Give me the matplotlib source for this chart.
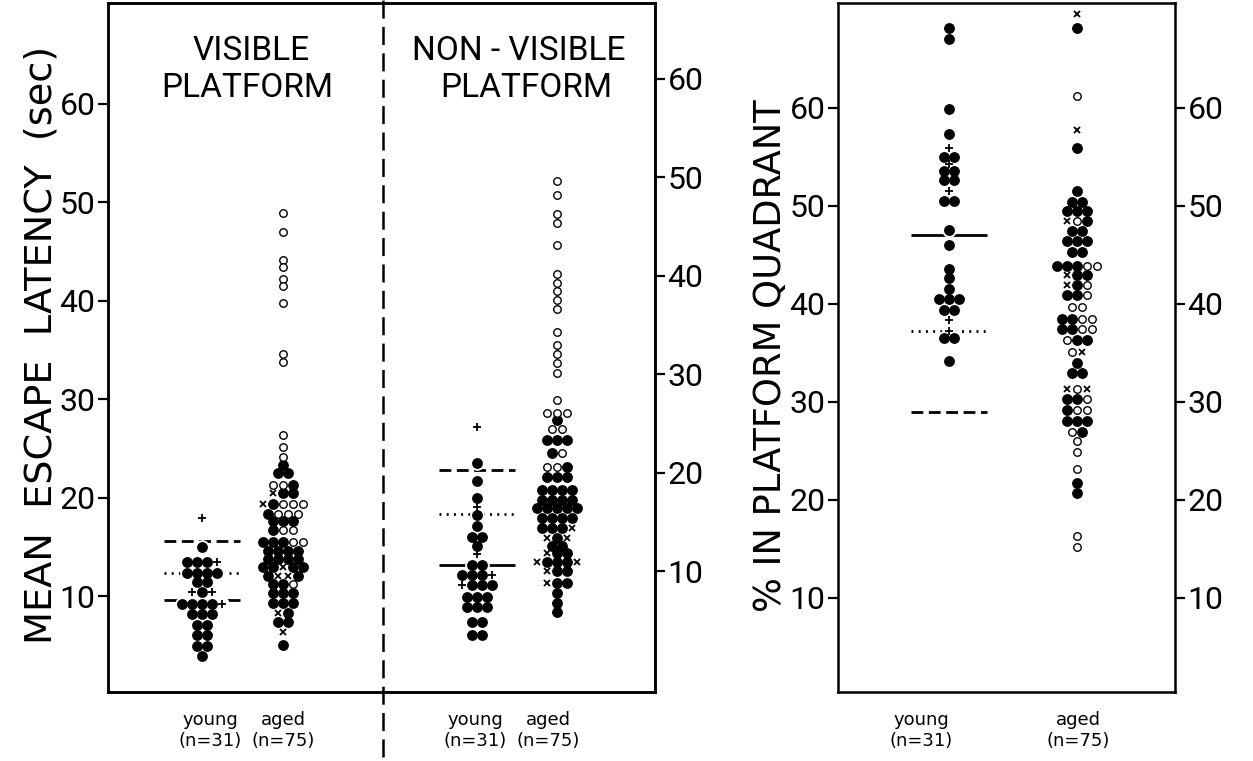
import numpy as np
import matplotlib
matplotlib.use("Agg")
import matplotlib.pyplot as plt
from matplotlib import font_manager
from matplotlib.transforms import blended_transform_factory

plt.rcParams['font.family'] = ['DejaVu Sans']
plt.rcParams['lines.scale_dashes'] = False

# ---------------------------------------------------------------------------
# Data: each column is a list of rows (value, marker codes from left to right)
#   f = filled circle, o = open circle, x = cross, + = plus
# ---------------------------------------------------------------------------
visible_young = [(18.0, '+'), (15.0, 'f'), (13.45, 'fff+'), (12.4, 'ffff'),
                 (11.45, 'ff'), (10.4, '+f+'), (9.2, 'ffff+'), (8.25, 'fff'),
                 (7.1, 'ff'), (6.1, 'ff'), (5.0, 'ff'), (4.0, 'f')]

visible_aged = [(48.9, 'o'), (47.0, 'o'), (44.1, 'o'), (43.4, 'o'), (42.2, 'o'),
                (41.5, 'o'), (39.8, 'o'), (34.6, 'o'), (33.8, 'o'), (26.4, 'o'),
                (25.2, 'o'), (24.1, 'o'), (23.3, 'f'), (22.5, 'ff'), (21.3, 'oof'),
                (20.5, 'xff'), (19.4, 'xfooo'), (18.4, 'fooo'), (17.6, 'fff'),
                (16.7, 'foo'), (15.5, 'fffoo'), (14.6, 'ffff'), (13.8, 'ffff'),
                (13.0, 'ffxff'), (12.1, 'fxxf'), (11.3, 'ffo'), (10.3, 'fff'),
                (9.3, 'fff'), (8.3, 'xf'), (7.4, 'ff'), (6.4, 'x'), (5.1, 'f')]

nonvisible_young = [(24.7, '+'), (21.0, 'f'), (19.2, 'f'), (17.4, 'f'), (16.5, '+'),
                    (15.7, 'f'), (14.6, 'f'), (13.5, 'ff'), (12.6, 'f'), (11.8, '+'),
                    (10.65, 'ff'), (9.6, 'fff+'), (8.6, '+fff'), (7.4, 'fff'),
                    (6.4, 'fff'), (4.9, 'ff'), (3.55, 'ff')]

nonvisible_aged = [(49.6, 'o'), (48.2, 'o'), (46.3, 'o'), (45.3, 'o'), (43.1, 'o'),
                   (40.2, 'o'), (39.3, 'o'), (38.4, 'o'), (37.5, 'o'), (36.6, 'o'),
                   (34.3, 'o'), (33.0, 'o'), (32.1, 'o'), (31.1, 'o'), (30.1, 'o'),
                   (27.4, 'o'), (26.1, 'ooo'), (25.4, 'f'), (24.4, 'oo'), (23.3, 'fff'),
                   (22.0, 'fo'), (20.6, 'oof'), (19.6, 'fff'), (18.3, 'ffff'),
                   (17.2, 'ffff'), (16.4, 'fffff'), (15.4, 'ffff'), (14.4, 'fffx'),
                   (13.4, 'xfx'), (12.6, 'ff'), (11.9, 'xff'), (11.0, 'xfffx'),
                   (10.0, 'xff'), (8.8, 'xff'), (7.8, 'f'), (6.8, 'f'), (5.9, 'f')]

quadrant_young = [(68.1, 'f'), (67.0, 'f'), (59.9, 'f'), (57.3, 'f'), (55.9, '+'),
                  (55.0, 'ff'), (54.3, '+'), (53.6, 'ff'), (52.6, 'ff'), (51.5, '+'),
                  (50.5, 'ff'), (47.5, 'f'), (46.0, 'f'), (43.6, 'f'), (42.6, 'f'),
                  (41.5, 'f'), (40.5, 'fff'), (39.4, 'ff'), (38.4, '+'), (37.2, '+'),
                  (36.5, 'ff'), (34.2, 'f')]

quadrant_aged = [(69.6, 'x'), (68.2, 'f'), (61.2, 'o'), (57.7, 'x'), (55.9, 'f'),
                 (51.5, 'f'), (50.4, 'ff'), (49.5, 'fff'), (48.5, 'xof'), (47.4, 'ff'),
                 (46.4, 'fff'), (45.3, 'ff'), (43.9, 'fffoo'), (42.9, 'xff'),
                 (41.9, 'xfo'), (40.9, 'ffo'), (39.7, 'oo'), (38.5, 'ffoo'),
                 (37.4, 'ffoo'), (36.3, 'off'), (35.1, 'ox'), (34.0, 'f'), (32.9, 'ff'),
                 (31.3, 'xox'), (30.3, 'ffo'), (29.2, 'foo'), (28.1, 'fff'), (26.9, 'of'),
                 (26.0, 'o'), (24.9, 'o'), (23.2, 'o'), (21.7, 'f'), (20.7, 'f'),
                 (16.3, 'o'), (15.2, 'o')]

# reference levels drawn across the young columns (dashed, dotted, solid)
visible_young_refs = {'dashed': 15.65, 'dotted': 12.4, 'solid': 9.63}
nonvisible_young_refs = {'dashed': 20.3, 'dotted': 15.8, 'solid': 10.65}
quadrant_young_refs = {'dashed': 29.0, 'dotted': 37.2, 'solid': 47.0}

group_labels = ['young\n(n=31)', 'aged\n(n=75)']
yticks = [10, 20, 30, 40, 50, 60]

# ---------------------------------------------------------------------------
W, H = 1253, 761
fig = plt.figure(figsize=(W / 100, H / 100), dpi=100)

installed = {f.name for f in font_manager.fontManager.ttflist}
LETTER_FONT = ['Roboto', 'DejaVu Sans'] if 'Roboto' in installed else ['DejaVu Sans']

SLOT = 10.0        # horizontal spacing of marks in a row (pixels == x units)
REF_HALF = 38.0    # half length of reference lines

MARKERS = {
    'f': dict(marker='o', ms=7.8, mfc='black', mec='black', mew=0),
    'o': dict(marker='o', ms=5.4, mfc='white', mec='black', mew=1.0),
    'x': dict(marker='x', ms=4.6, mec='black', mew=1.3),
    '+': dict(marker='+', ms=5.8, mec='black', mew=1.3),
}
LINESTYLES = {'dashed': (0, (8.5, 4.0)), 'dotted': (0, (1.4, 3.8)), 'solid': '-'}


def expand(rows):
    vals, kinds = [], []
    for v, codes in rows:
        for c in codes:
            vals.append(v)
            kinds.append(c)
    return np.array(vals), np.array(kinds)


def row_offsets(vals):
    offs = np.zeros(len(vals))
    for v in np.unique(vals):
        idx = np.where(vals == v)[0]
        k = len(idx)
        offs[idx] = (np.arange(k) - (k - 1) / 2.0) * SLOT
    return offs


def draw_column(ax, center, rows):
    vals, kinds = expand(rows)
    x = center + row_offsets(vals)
    ax.plot(x, vals, ls='none', marker='o', ms=10.5, mfc='white', mew=0, zorder=3)
    for code, style in MARKERS.items():
        m = kinds == code
        if m.any():
            ax.plot(x[m], vals[m], ls='none', zorder=4, **style)


def draw_refs(ax, center, refs):
    for name, v in refs.items():
        ax.plot([center - REF_HALF, center + REF_HALF], [v, v], color='black',
                lw=2.0, ls=LINESTYLES[name], zorder=2, solid_capstyle='butt',
                dash_capstyle='butt')


def style_axes(ax):
    for s in ax.spines.values():
        s.set_linewidth(1.8)
    ax.tick_params(axis='y', direction='out', length=7, width=1.6,
                   labelsize=23, pad=2)
    for lab in ax.get_yticklabels():
        lab.set_family(LETTER_FONT)


def title(x, y, s):
    fig.text(x / W, 1 - y / H, s, ha='center', va='baseline', fontsize=24,
             family=LETTER_FONT)


# ---------------- left panel: escape latency ----------------
axL = fig.add_axes([108 / W, 1 - 692 / H, 547 / W, 689 / H])
axL.set_xlim(0, 547)
axL.set_ylim(0.3, 70.2)
axL.set_yticks(yticks)
axL.tick_params(axis='y', right=False)
axL.set_xticks([102, 175, 367, 440])
axL.set_xticklabels(group_labels * 2)
axL.tick_params(axis='x', length=0, labelsize=13, pad=14)
style_axes(axL)

axNV = axL.twinx()
axNV.set_ylim(0.3 - 2.535, 70.2 - 2.535)
axNV.set_yticks(yticks)
axNV.tick_params(axis='y', left=False, right=True, labelright=True)
style_axes(axNV)

draw_refs(axL, 94, visible_young_refs)
draw_column(axL, 94, visible_young)
draw_column(axL, 175, visible_aged)
draw_refs(axNV, 369, nonvisible_young_refs)
draw_column(axNV, 369, nonvisible_young)
draw_column(axNV, 449, nonvisible_aged)

# dashed divider between the two conditions, running past the axis
tr = blended_transform_factory(axL.transData, fig.transFigure)
axL.plot([275, 275], [1 - 757 / H, 1.0], transform=tr, color='black', lw=1.8,
         ls=(0, (13, 6)), clip_on=False, zorder=5)

title(251, 60, 'VISIBLE')
title(247, 97, 'PLATFORM')
title(519, 60, 'NON - VISIBLE')
title(526, 97, 'PLATFORM')
fig.text(42 / W, 1 - 345 / H, 'MEAN  ESCAPE  LATENCY  (sec)', rotation=90,
         ha='center', va='center', fontsize=27.5)

# ---------------- right panel: time in platform quadrant ----------------
axR = fig.add_axes([838 / W, 1 - 692 / H, 337 / W, 689 / H])
axR.set_xlim(0, 337)
axR.set_ylim(0.4, 70.7)
axR.set_yticks(yticks)
axR.tick_params(axis='y', left=True, right=True, labelright=True)
axR.set_xticks([83, 240])
axR.set_xticklabels(group_labels)
axR.tick_params(axis='x', length=0, labelsize=13, pad=14)
style_axes(axR)

draw_refs(axR, 111, quadrant_young_refs)
draw_column(axR, 111, quadrant_young)
draw_column(axR, 239, quadrant_aged)

fig.text(770 / W, 1 - 356 / H, '% IN PLATFORM QUADRANT', rotation=90,
         ha='center', va='center', fontsize=26.5)

fig.savefig('out.png', dpi=100)
